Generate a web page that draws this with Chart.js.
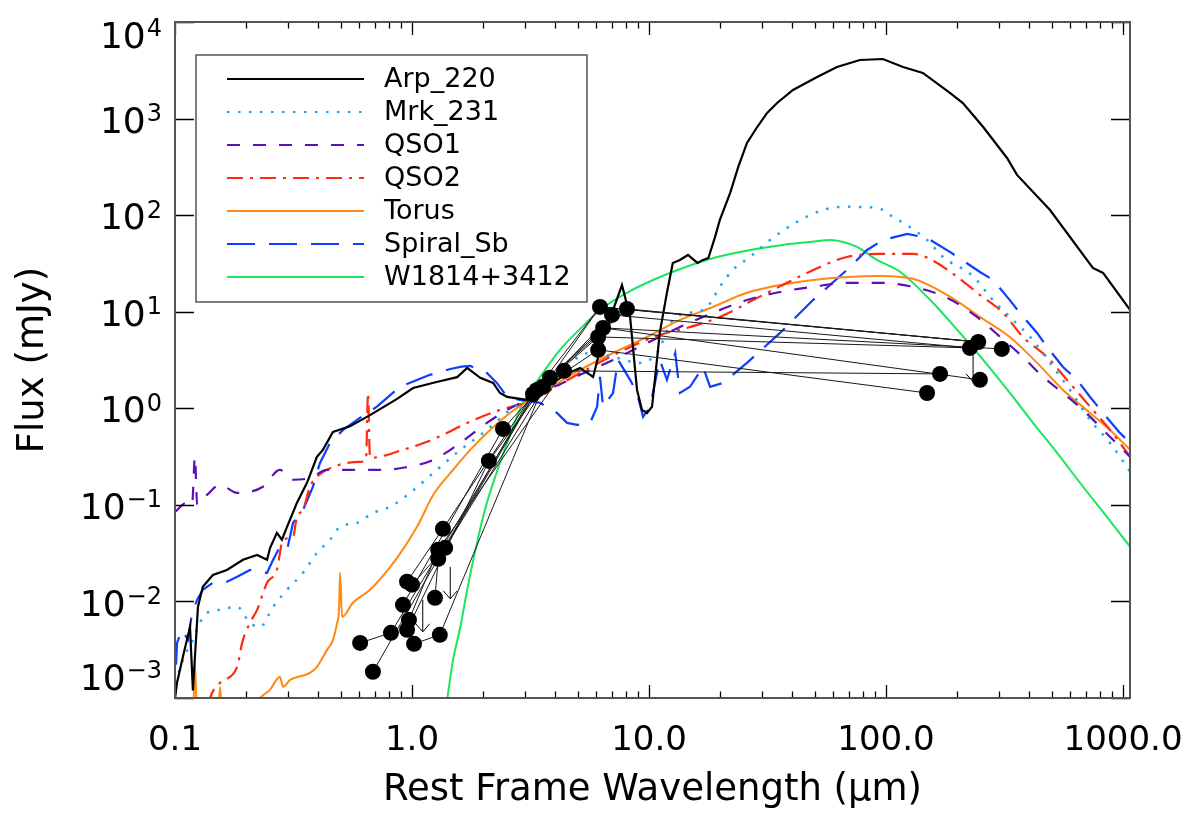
<!DOCTYPE html>
<html>
<head>
<meta charset="utf-8">
<script src="https://cdn.jsdelivr.net/npm/chart.js@4.4.0/dist/chart.umd.min.js"></script>
<style>
  html, body { margin: 0; padding: 0; background: #fff; }
  canvas { display: block; }
</style>
</head>
<body>
<canvas id="sedChart" width="1189" height="813"></canvas>
<script>
// Template SEDs: rest wavelength (micron) and flux (mJy)
const arpWave = [0.1, 0.102, 0.108, 0.1157, 0.119, 0.125, 0.131, 0.1445, 0.1656, 0.1936, 0.222, 0.2445, 0.252, 0.269, 0.2825, 0.297, 0.327, 0.3605, 0.397, 0.4207, 0.464, 0.547, 0.665, 0.865, 1.01, 1.27, 1.55, 1.71, 1.94, 2.20, 2.35, 2.52, 3.05, 3.18, 3.37, 3.82, 4.42, 5.12, 5.81, 6.21, 7.05, 7.69, 8.32, 8.90, 9.34, 9.81, 10.3, 11.1, 11.9, 12.6, 13.5, 14.6, 16.0, 16.9, 17.8, 19.0, 19.9, 22.0, 23.8, 25.9, 28.6, 31.5, 34.7, 40.5, 51.2, 62.1, 77.6, 97.0, 118, 143, 186, 211, 257, 324, 357, 492, 746, 824, 1072];
const arpFlux = [1.0e-3, 1.44e-3, 2.67e-3, 5.46e-3, 1.2e-3, 8.8e-3, 1.42e-2, 1.88e-2, 2.12e-2, 2.70e-2, 3.03e-2, 2.70e-2, 3.59e-2, 5.13e-2, 4.35e-2, 5.92e-2, 0.105, 0.169, 0.314, 0.371, 0.570, 0.65, 0.85, 1.25, 1.62, 1.87, 2.10, 2.62, 2.07, 1.83, 1.44, 1.31, 1.22, 1.67, 1.28, 1.75, 2.22, 2.62, 2.11, 4.03, 10.4, 18.9, 8.83, 1.55, 0.962, 0.895, 1.04, 6.03, 15.7, 32.0, 34.4, 38.7, 32.0, 34.4, 36.0, 59.5, 89.2, 170, 316, 559, 818, 1143, 1449, 1977, 2697, 3422, 4043, 4140, 3422, 2965, 1841, 1449, 818, 391, 261, 113, 28.4, 25.2, 10.4];

const mrkWave = [0.1, 0.102, 0.108, 0.119, 0.1274, 0.1365, 0.155, 0.183, 0.207, 0.2285, 0.2595, 0.297, 0.347, 0.397, 0.451, 0.497, 0.586, 0.684, 0.807, 0.981, 1.23, 1.60, 2.07, 2.59, 3.05, 3.71, 5.64, 7.05, 9.16, 10.8, 12.6, 14.9, 17.6, 19.9, 22.6, 26.7, 32.4, 42.1, 54.2, 65.9, 91.6, 107, 126, 149, 174, 235, 275, 333, 405, 492, 597, 726, 881, 1072];
const mrkFlux = [1.1e-3, 1.54e-3, 2.48e-3, 4.0e-3, 6.0e-3, 7.6e-3, 8.2e-3, 8.8e-3, 6.0e-3, 5.46e-3, 8.8e-3, 1.32e-2, 1.98e-2, 3.18e-2, 4.35e-2, 5.92e-2, 6.52e-2, 8.26e-2, 9.53e-2, 0.133, 0.214, 0.371, 0.597, 0.962, 1.22, 1.75, 3.74, 3.40, 2.95, 3.74, 8.22, 9.72, 11.2, 18.1, 27.1, 36.9, 55.4, 85.1, 113, 122, 119, 95.7, 75.5, 55.4, 36.9, 22.9, 14.2, 8.83, 5.48, 2.95, 1.55, 0.759, 0.438, 0.220];

const qso1Wave = [0.1, 0.112, 0.118, 0.1214, 0.124, 0.1365, 0.155, 0.183, 0.235, 0.277, 0.315, 0.371, 0.438, 0.586, 0.733, 0.916, 1.23, 1.60, 2.07, 2.52, 3.05, 5.12, 7.05, 9.81, 13.5, 18.6, 25.9, 35.7, 49.2, 68.4, 94.4, 130, 181, 242, 303, 378, 460, 558, 678, 824, 1072];
const qso1Flux = [8.47e-2, 0.105, 0.100, 0.314, 0.100, 0.127, 0.161, 0.133, 0.154, 0.230, 0.182, 0.190, 0.230, 0.230, 0.230, 0.242, 0.292, 0.438, 0.706, 0.962, 1.22, 2.22, 3.17, 4.75, 6.96, 9.72, 13.2, 16.0, 18.1, 19.9, 19.9, 18.1, 13.9, 8.83, 5.48, 3.40, 2.11, 1.44, 0.962, 0.597, 0.314];

const qso2Wave = [0.13, 0.1406, 0.155, 0.183, 0.192, 0.207, 0.222, 0.2445, 0.269, 0.2857, 0.315, 0.327, 0.347, 0.371, 0.397, 0.464, 0.604, 0.640, 0.652, 0.665, 0.916, 1.27, 1.71, 2.35, 3.05, 5.12, 7.55, 11.1, 14.5, 19.9, 27.5, 38.2, 52.7, 68.4, 94.4, 130, 153, 200, 249, 312, 378, 478, 580, 726, 881, 1072];
const qso2Flux = [4e-4, 1.0e-3, 1.44e-3, 2.10e-3, 3.72e-3, 6.0e-3, 8.18e-3, 1.56e-2, 2.12e-2, 4.35e-2, 4.67e-2, 7.52e-2, 8.87e-2, 0.154, 0.195, 0.247, 0.279, 0.292, 1.44, 0.307, 0.371, 0.494, 0.706, 0.962, 1.16, 2.32, 3.84, 5.75, 6.80, 8.83, 13.2, 19.9, 29.1, 36.9, 39.7, 39.7, 35.2, 22.9, 14.9, 9.72, 5.48, 3.40, 1.97, 1.04, 0.597, 0.314];

const torusWave = [0.105, 0.119, 0.1214, 0.124, 0.15, 0.155, 0.16, 0.19, 0.2285, 0.252, 0.277, 0.2857, 0.306, 0.371, 0.397, 0.438, 0.464, 0.483, 0.492, 0.497, 0.507, 0.563, 0.665, 0.865, 1.05, 1.23, 1.49, 1.76, 2.07, 2.59, 3.05, 5.12, 7.05, 9.81, 13.5, 18.6, 25.9, 35.7, 49.2, 68.4, 94.4, 130, 181, 249, 333, 434, 558, 726, 881, 1072];
const torusFlux = [3e-4, 6e-4, 2.31e-3, 6e-4, 4e-4, 1.3e-3, 4e-4, 5e-4, 1.0e-3, 1.22e-3, 1.66e-3, 1.31e-3, 1.54e-3, 1.82e-3, 2.10e-3, 3.15e-3, 4.0e-3, 6.0e-3, 8.18e-3, 1.98e-2, 6.93e-3, 9.68e-3, 1.32e-2, 2.83e-2, 5.92e-2, 0.127, 0.230, 0.371, 0.556, 0.895, 1.16, 2.50, 3.74, 5.48, 8.22, 11.2, 15.7, 18.9, 21.3, 22.9, 23.5, 21.9, 14.9, 8.83, 5.48, 2.95, 1.55, 0.895, 0.597, 0.371];

const spiralWave = [0.101, 0.102, 0.107, 0.1135, 0.118, 0.124, 0.131, 0.1445, 0.1656, 0.183, 0.207, 0.2285, 0.2445, 0.2595, 0.277, 0.297, 0.315, 0.347, 0.382, 0.409, 0.451, 0.512, 0.586, 0.711, 0.889, 1.19, 1.45, 1.62, 1.76, 2.07, 2.28, 2.52, 2.86, 3.47, 4.09, 4.51, 4.97, 5.64, 6.04, 6.21, 6.40, 7.05, 7.40, 8.32, 8.90, 9.44, 10.1, 11.1, 11.9, 12.9, 13.5, 14.9, 16.9, 18.1, 20.5, 25.9, 35.7, 49.2, 68.4, 83.2, 97.0, 123, 149, 186, 249, 283, 333, 367, 434, 478, 558, 640, 726, 824, 970, 1072];
const spiralFlux = [2.21e-3, 3.72e-3, 5.08e-3, 4.0e-3, 7.6e-3, 1.04e-2, 1.32e-2, 1.56e-2, 1.60e-2, 1.80e-2, 2.12e-2, 1.98e-2, 1.98e-2, 2.70e-2, 3.67e-2, 3.42e-2, 6.52e-2, 8.87e-2, 0.154, 0.272, 0.438, 0.597, 0.759, 1.04, 1.67, 2.22, 2.55, 2.70, 2.75, 2.32, 1.83, 1.31, 1.22, 1.14, 0.895, 0.706, 0.673, 0.706, 1.04, 2.11, 1.04, 1.44, 3.17, 1.97, 1.44, 0.815, 1.04, 3.17, 1.97, 3.74, 1.44, 1.67, 2.68, 1.67, 1.83, 2.95, 6.03, 13.2, 27.1, 43.6, 55.4, 63.9, 58.1, 41.6, 25.8, 21.3, 13.2, 9.72, 6.03, 4.32, 2.68, 1.97, 1.31, 0.895, 0.556, 0.438];

const w1814Wave = [1.38, 1.41, 1.49, 1.60, 1.71, 1.88, 2.03, 2.20, 2.52, 2.94, 3.47, 4.21, 5.12, 6.21, 8.07, 10.4, 13.9, 19.4, 26.7, 36.7, 47.7, 58.1, 65.9, 75.5, 91.6, 115, 158, 205, 257, 333, 417, 527, 678, 855, 1072];
const w1814Flux = [7e-4, 1.0e-3, 2.48e-3, 5.46e-3, 1.32e-2, 4.04e-2, 8.87e-2, 0.169, 0.438, 1.14, 2.11, 4.03, 6.64, 10.4, 15.7, 21.3, 28.4, 36.9, 43.6, 49.2, 52.8, 55.4, 52.8, 46.9, 34.4, 25.8, 12.3, 6.03, 3.17, 1.44, 0.706, 0.345, 0.154, 7.52e-2, 3.67e-2];

// Photometry of the sample (all detections)
const photWave = [0.604, 0.684, 0.815, 0.916, 0.953, 1.00, 0.971, 0.953, 1.02, 1.25, 1.31, 1.35, 1.38, 1.29, 1.29, 2.11, 2.42, 3.24, 3.37, 3.57, 3.82, 4.38, 6.21, 6.98, 8.07, 6.40, 6.10, 6.10, 245, 226, 308, 169, 249, 149];
const photFlux = [3.72e-3, 1.87e-3, 4.73e-3, 9.22e-3, 1.60e-2, 1.49e-2, 6.45e-3, 5.08e-3, 3.64e-3, 1.09e-2, 4.51e-3, 5.65e-2, 3.59e-2, 3.42e-2, 2.76e-2, 0.285, 0.612, 1.41, 1.55, 1.67, 2.07, 2.44, 11.2, 9.27, 10.7, 6.80, 5.48, 4.03, 4.86, 4.22, 4.12, 2.27, 1.97, 1.44];
// which photometry points belong to each source (joined by thin lines)
const sourceLinks = [
  [1, 17, 22, 28],
  [0, 2, 18, 24, 28],
  [7, 15, 19, 23, 29],
  [3, 16, 20, 25, 30],
  [4, 11, 17, 26, 29],
  [8, 10, 19, 27, 33],
  [6, 13, 21, 31],
  [5, 12, 18, 25, 32],
  [9, 14, 20, 22, 28]
];
// upper limits
const ulWave = [1.11, 1.45, 233];
const ulFlux = [1.04e-2, 2.28e-2, 4.03];

// axis ticks
const xMajorTicks = [0.1, 1, 10, 100, 1000];
const xTickLabels = ['0.1', '1.0', '10.0', '100.0', '1000.0'];
const yTickValues = [1e-3, 1e-2, 1e-1, 1, 10, 100, 1000, 1e4];
const yTickExponents = ['\u22123', '\u22122', '\u22121', '0', '1', '2', '3', '4'];

const X_MAX = 1070;
const FONT = "'DejaVu Sans', sans-serif";

function toPoints(xs, ys) {
    return xs.map(function(v, i) { return {x: v, y: ys[i]}; });
}

function isDecade(v) {
    const l = Math.log10(v);
    return Math.abs(l - Math.round(l)) < 1e-6;
}

// x tick positions: every integer multiple inside each decade
let xTickValues = [];
xMajorTicks.forEach(function(m) {
    for (let k = 1; k <= 9; k++) {
        if (m * k <= X_MAX) xTickValues.push(m * k);
    }
});

const templates = [
    {label: 'Arp_220', wave: arpWave, flux: arpFlux, color: '#000000', dash: [], width: 2.2, smooth: false},
    {label: 'Mrk_231', wave: mrkWave, flux: mrkFlux, color: '#1fa6f2', dash: [2.5, 8.5], width: 2.5, smooth: true},
    {label: 'QSO1', wave: qso1Wave, flux: qso1Flux, color: '#5a12b6', dash: [13, 13], width: 2.2, smooth: true},
    {label: 'QSO2', wave: qso2Wave, flux: qso2Flux, color: '#ff2a10', dash: [16, 7, 3, 7], width: 2.2, smooth: true},
    {label: 'Torus', wave: torusWave, flux: torusFlux, color: '#ff8a12', dash: [], width: 2, smooth: true},
    {label: 'Spiral_Sb', wave: spiralWave, flux: spiralFlux, color: '#0f3eff', dash: [28, 14], width: 2.2, smooth: false},
    {label: 'W1814+3412', wave: w1814Wave, flux: w1814Flux, color: '#18e65c', dash: [], width: 2, smooth: true}
];

let datasets = [];
// photometry points drawn on top
datasets.push({
    label: 'photometry',
    data: toPoints(photWave, photFlux),
    showLine: false,
    pointRadius: 8,
    pointBackgroundColor: '#000',
    pointBorderWidth: 0
});
sourceLinks.forEach(function(idx, n) {
    datasets.push({
        label: 'source' + (n + 1),
        data: idx.map(function(i) { return {x: photWave[i], y: photFlux[i]}; }),
        borderColor: '#1a1a1a',
        borderWidth: 1,
        pointRadius: 0
    });
});
templates.forEach(function(t) {
    datasets.push({
        label: t.label,
        data: toPoints(t.wave, t.flux),
        borderColor: t.color,
        borderWidth: t.width,
        borderDash: t.dash,
        pointRadius: 0,
        cubicInterpolationMode: t.smooth ? 'monotone' : 'default',
        inLegend: true
    });
});

// white page
const whiteBg = {
    id: 'whiteBg',
    beforeDraw(chart) {
        const ctx = chart.ctx;
        ctx.save();
        ctx.fillStyle = '#fff';
        ctx.fillRect(0, 0, chart.width, chart.height);
        ctx.restore();
    }
};

// inward tick marks, frame, power-of-ten labels and upper-limit arrows
const frameTicks = {
    id: 'frameTicks',
    afterDatasetsDraw(chart) {
        const {ctx, chartArea: a, scales: {x, y}} = chart;
        ctx.save();
        // upper limits
        ctx.strokeStyle = '#000';
        ctx.lineWidth = 1;
        ctx.beginPath();
        ulWave.forEach(function(w, i) {
            const px = x.getPixelForValue(w);
            const py = y.getPixelForValue(ulFlux[i]);
            ctx.moveTo(px, py);
            ctx.lineTo(px, py + 32);
            ctx.moveTo(px - 7, py + 24);
            ctx.lineTo(px, py + 32);
            ctx.lineTo(px + 7, py + 24);
        });
        ctx.stroke();

        ctx.strokeStyle = '#000';
        ctx.lineWidth = 1.3;
        ctx.beginPath();
        x.ticks.forEach(function(t) {
            const px = Math.round(x.getPixelForValue(t.value)) + 0.5;
            const len = isDecade(t.value) ? 13 : 6.5;
            ctx.moveTo(px, a.bottom);
            ctx.lineTo(px, a.bottom - len);
            ctx.moveTo(px, a.top);
            ctx.lineTo(px, a.top + len);
        });
        y.ticks.forEach(function(t) {
            const py = Math.round(y.getPixelForValue(t.value)) + 0.5;
            ctx.moveTo(a.left, py);
            ctx.lineTo(a.left + 19, py);
            ctx.moveTo(a.right, py);
            ctx.lineTo(a.right - 19, py);
        });
        ctx.stroke();
        ctx.strokeStyle = '#555';
        ctx.lineWidth = 2;
        ctx.strokeRect(a.left, a.top, a.right - a.left, a.bottom - a.top);

        // y labels: "10" with a raised exponent, kept inside the axis range
        const baseSize = 36, expSize = 24;
        const capB = baseSize * 0.729, capE = expSize * 0.729;
        ctx.fillStyle = '#000';
        ctx.textBaseline = 'alphabetic';
        ctx.textAlign = 'right';
        yTickValues.forEach(function(v, i) {
            const py = y.getPixelForValue(v);
            let capTop = py + 1 - capB / 2;
            if (capTop < a.top) capTop = a.top;
            if (capTop + capB > a.bottom - 8) capTop = a.bottom - 8 - capB;
            const right = a.left - 13;
            ctx.font = expSize + 'px ' + FONT;
            const ew = ctx.measureText(yTickExponents[i]).width;
            ctx.fillText(yTickExponents[i], right, capTop - 3 + capE);
            ctx.font = baseSize + 'px ' + FONT;
            ctx.fillText('10', right - ew - 1, capTop + capB);
        });
        ctx.restore();
    }
};

// boxed legend in the upper left corner
const boxLegend = {
    id: 'boxLegend',
    afterDraw(chart) {
        const {ctx, chartArea: a} = chart;
        const items = chart.data.datasets.filter(function(d) { return d.inLegend; });
        const left = a.left + 21, top = a.top + 33, w = 391, h = 247;
        ctx.save();
        ctx.fillStyle = '#fff';
        ctx.fillRect(left, top, w, h);
        ctx.strokeStyle = '#555';
        ctx.lineWidth = 1.5;
        ctx.strokeRect(left, top, w, h);
        ctx.font = '27px ' + FONT;
        ctx.textBaseline = 'middle';
        ctx.textAlign = 'left';
        items.forEach(function(d, i) {
            const yy = top + 24 + i * 33;
            ctx.strokeStyle = d.borderColor;
            ctx.lineWidth = 1.8;
            ctx.setLineDash(d.borderDash || []);
            ctx.beginPath();
            ctx.moveTo(left + 31, yy);
            ctx.lineTo(left + 168, yy);
            ctx.stroke();
            ctx.setLineDash([]);
            ctx.fillStyle = '#000';
            ctx.fillText(d.label, left + 188, yy + 1);
        });
        ctx.restore();
    }
};

const tickFont = {family: FONT, size: 34};
const titleFont = {family: FONT, size: 37};

new Chart(document.getElementById('sedChart'), {
    type: 'line',
    data: {datasets: datasets},
    plugins: [whiteBg, frameTicks, boxLegend],
    options: {
        responsive: false,
        animation: false,
        devicePixelRatio: 1,
        events: [],
        layout: {padding: {top: 22, right: 59, bottom: 0, left: 0}},
        plugins: {legend: {display: false}, tooltip: {enabled: false}},
        elements: {line: {tension: 0}},
        scales: {
            x: {
                type: 'logarithmic',
                min: 0.1,
                max: X_MAX,
                bounds: 'data',
                grid: {display: false, drawTicks: false},
                border: {display: false},
                afterBuildTicks: function(scale) {
                    scale.ticks = xTickValues.map(function(v) { return {value: v}; });
                },
                afterFit: function(scale) {
                    scale.height = 115;
                    scale.paddingLeft = 0;
                    scale.paddingRight = 0;
                },
                ticks: {
                    autoSkip: false,
                    maxRotation: 0,
                    minRotation: 0,
                    padding: 23,
                    color: '#000',
                    font: tickFont,
                    callback: function(value) {
                        if (!isDecade(value)) return '';
                        const i = Math.round(Math.log10(value)) + 1;
                        return xTickLabels[i];
                    }
                },
                title: {
                    display: true,
                    text: 'Rest Frame Wavelength (\u03bcm)',
                    color: '#000',
                    font: titleFont,
                    padding: {top: 0, bottom: 0}
                }
            },
            y: {
                type: 'logarithmic',
                min: 1e-3,
                max: 1e4,
                bounds: 'data',
                grid: {display: false, drawTicks: false},
                border: {display: false},
                afterBuildTicks: function(scale) {
                    scale.ticks = yTickValues.map(function(v) { return {value: v}; });
                },
                afterFit: function(scale) {
                    scale.width = 175;
                    scale.paddingTop = 0;
                    scale.paddingBottom = 0;
                },
                ticks: {display: false},
                title: {
                    display: true,
                    text: 'Flux (mJy)',
                    color: '#000',
                    font: titleFont,
                    padding: {top: 11, bottom: 0}
                }
            }
        }
    }
});
</script>
</body>
</html>
